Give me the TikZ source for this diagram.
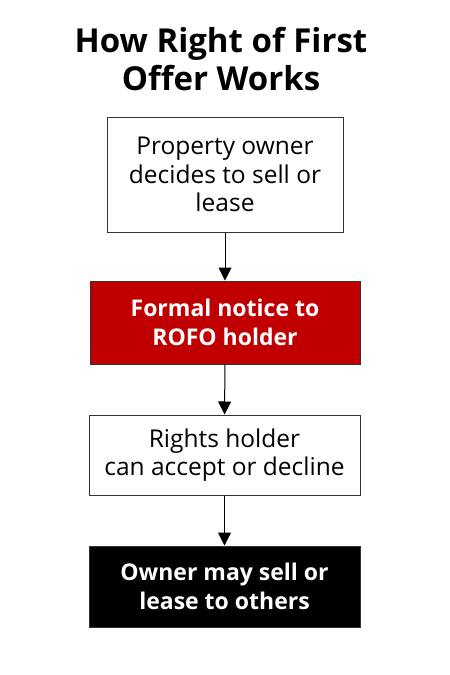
\documentclass[tikz,border=0pt]{standalone}
\usepackage{fontspec}
\setmainfont{Open Sans}
\usetikzlibrary{arrows.meta}
\definecolor{rofored}{HTML}{C00000}
\tikzset{
  boxw/.style={draw=black!80, line width=1pt, fill=white, align=center, font=\fontsize{24.5}{28.5}\selectfont, inner sep=0pt},
  boxr/.style={draw=black!80, line width=1pt, fill=rofored, text=white, align=center, font=\bfseries\fontsize{23}{29}\selectfont, inner sep=0pt},
  boxk/.style={draw=black!80, line width=1pt, fill=black, text=white, align=center, font=\bfseries\fontsize{23}{29}\selectfont, inner sep=0pt},
  conn/.style={line width=1pt, -{Triangle[length=13pt,width=13pt]}}
}
\begin{document}
\begin{tikzpicture}[x=1pt,y=-1pt]
\useasboundingbox (0,0) rectangle (450,675);
\node[font=\bfseries\fontsize{33}{38}\selectfont, align=center] (title) at (221,59) {How Right of First\\Offer Works};
\node[boxw, minimum width=236pt, minimum height=115pt] (b1) at (225,174.5) {Property owner\\ decides to sell or\\lease};
\node[boxr, minimum width=270pt, minimum height=83pt] (b2) at (225,322.5) {Formal notice to\\ROFO holder};
\node[boxw, minimum width=271pt, minimum height=80pt] (b3) at (224.5,455) {Rights holder\\can accept or decline};
\node[boxk, minimum width=271pt, minimum height=81pt] (b4) at (224.5,586.5) {Owner may sell or\\lease to others};
\draw[conn] (b1.south) -- (b2.north);
\draw[conn] (b2.south) -- (b3.north);
\draw[conn] (b3.south) -- (b4.north);
\end{tikzpicture}
\end{document}
